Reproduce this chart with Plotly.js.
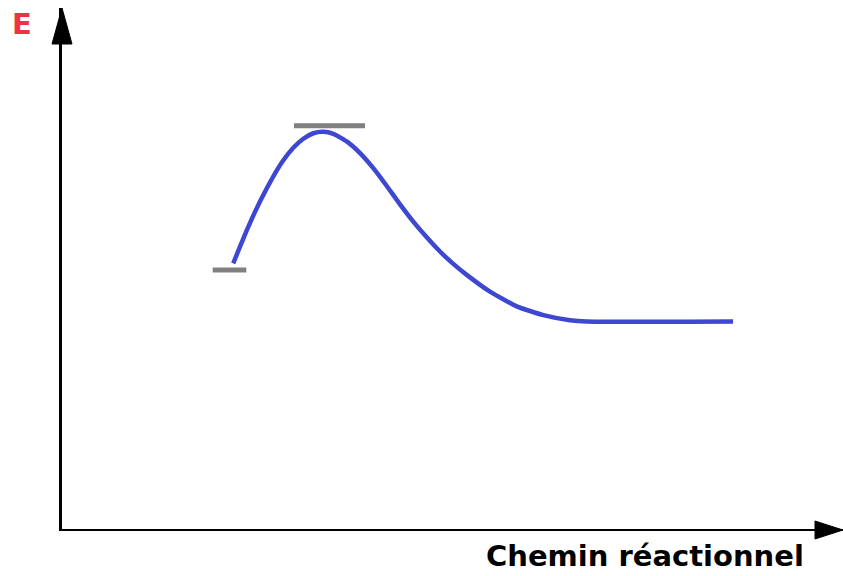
<!DOCTYPE html>
<html>
<head>
<meta charset="utf-8">
<script src="https://cdn.plot.ly/plotly-3.0.1.min.js"></script>
<style>html,body{margin:0;padding:0;background:#fff;}#chart{width:843px;height:576px;}</style>
</head>
<body>
<div id="chart"></div>
<script>
// Reaction coordinate (arbitrary units) and energy (arbitrary units)
const pathX = [21.93, 22.79, 23.65, 24.49, 25.35, 26.21, 27.06, 28.34, 29.62, 30.90, 32.18, 33.46, 34.74, 36.45, 38.16, 39.86, 41.58, 43.28, 44.98, 46.70, 48.40, 50.10, 51.82, 54.80, 58.22, 61.63, 65.04, 67.18, 85.92];
const pathE = [51.00, 54.21, 57.30, 60.15, 62.85, 65.36, 67.70, 70.77, 73.17, 74.90, 75.96, 76.24, 75.86, 74.39, 72.15, 69.26, 65.84, 62.32, 59.00, 55.99, 53.26, 50.89, 48.78, 45.56, 42.74, 41.05, 40.08, 39.82, 39.82];
const reactantX = [19.3, 23.6];
const reactantE = [49.7, 49.7];
const tsX = [29.7, 38.8];
const tsE = [77.4, 77.4];
const yLabel = "E";
const xLabel = "Chemin réactionnel";

const traces = [
  {x: reactantX, y: reactantE, mode: 'lines', line: {color: '#808080', width: 5}, hoverinfo: 'skip'},
  {x: tsX, y: tsE, mode: 'lines', line: {color: '#808080', width: 5}, hoverinfo: 'skip'},
  {x: pathX, y: pathE, mode: 'lines', line: {color: '#3d47d1', width: 4.5, shape: 'spline', smoothing: 0.5}, hoverinfo: 'skip'}
];

const layout = {
  width: 843, height: 576,
  margin: {l: 62, r: 0, t: 8, b: 47},
  paper_bgcolor: '#ffffff', plot_bgcolor: '#ffffff',
  showlegend: false,
  xaxis: {range: [0, 100], showline: true, linecolor: '#000', linewidth: 2, showgrid: false, zeroline: false, showticklabels: false, ticks: '', fixedrange: true},
  yaxis: {range: [0, 100], showline: true, linecolor: '#000', linewidth: 3, showgrid: false, zeroline: false, showticklabels: false, ticks: '', fixedrange: true},
  shapes: [
    {type: 'path', xref: 'paper', yref: 'paper', xsizemode: 'pixel', ysizemode: 'pixel', xanchor: 0, yanchor: 1,
     path: 'M 0 0 L -10 -36 L 10 -36 Z', fillcolor: '#000', line: {color: '#000', width: 1}},
    {type: 'path', xref: 'paper', yref: 'paper', xsizemode: 'pixel', ysizemode: 'pixel', xanchor: 1, yanchor: 0,
     path: 'M 0 -1 L -28 -10 L -28 8 Z', fillcolor: '#000', line: {color: '#000', width: 1}}
  ],
  annotations: [
    {text: yLabel, xref: 'paper', yref: 'paper', x: -0.0512, y: 0.969, xanchor: 'center', yanchor: 'middle', showarrow: false,
     font: {family: 'DejaVu Sans', size: 29, color: '#ee3344', weight: 'bold'}},
    {text: xLabel, xref: 'paper', yref: 'paper', x: 0.7465, y: -0.052, xanchor: 'center', yanchor: 'middle', showarrow: false,
     font: {family: 'DejaVu Sans', size: 29, color: '#000', weight: 'bold'}}
  ]
};

Plotly.newPlot('chart', traces, layout, {displayModeBar: false, staticPlot: true});
</script>
</body>
</html>
